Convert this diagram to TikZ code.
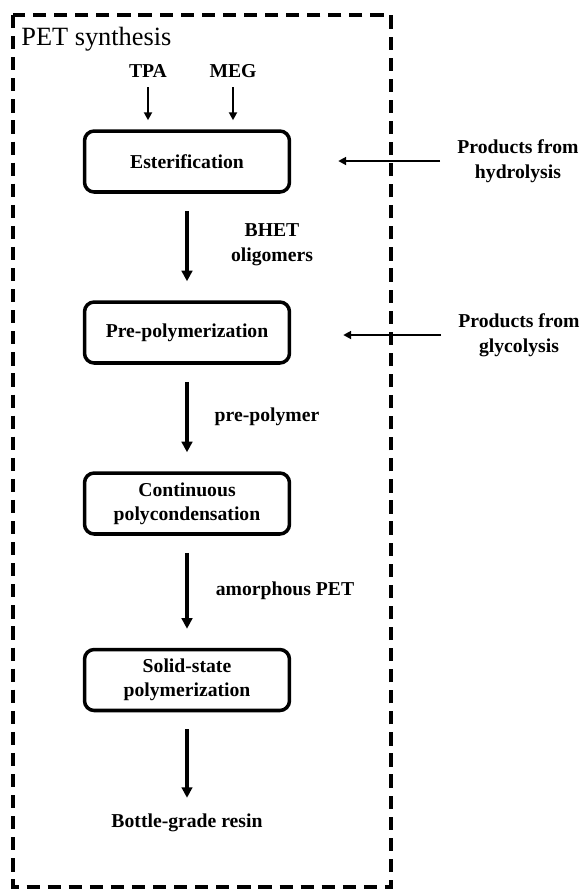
\documentclass[tikz,border=0pt]{standalone}
\usepackage{fontspec}
\setmainfont{Liberation Serif}
\usepackage{tikz}
\usetikzlibrary{arrows.meta}

\begin{document}
\begin{tikzpicture}[x=0.02cm,y=-0.02cm,
  stage/.style={draw,line width=2pt,rounded corners=5.5pt,minimum width=4.1cm,minimum height=1.22cm,align=center,font=\bfseries\fontsize{11.2}{13.5}\selectfont},
  lbl/.style={align=center,font=\bfseries\fontsize{11.2}{14}\selectfont},
  flow/.style={-{Triangle[length=6pt,width=6pt]},line width=1.9pt,shorten <=0.34cm,shorten >=0.38cm},
  feed/.style={-{Triangle[length=4.5pt,width=4.5pt]},line width=1.1pt}]
\useasboundingbox (0,0) rectangle (583,890);
\draw[line width=1.9pt,dash pattern=on 7.5pt off 4.5pt] (13,15) rectangle (391,887);
\node[anchor=base west,inner sep=0pt,font=\fontsize{15}{18}\selectfont] (title) at (21,45) {PET synthesis};
% inputs
\node[lbl] (tpa) at (148,71) {TPA};
\node[lbl] (meg) at (233,71) {MEG};
% process steps
\node[stage] (ester) at (187,161.5) {Esterification};
\node[stage] (prepoly) at (187,332.5) {Pre-polymerization};
\node[stage] (contin) at (187,503.5) {Continuous\\polycondensation};
\node[stage] (solid) at (187,680) {Solid-state\\polymerization};
\node[lbl] (resin) at (187,823) {Bottle-grade resin};
% intermediates
\node[lbl] (bhet) at (272,245) {BHET\\oligomers};
\node[lbl] (prepolymer) at (267,417) {pre-polymer};
\node[lbl] (amorph) at (285,591) {amorphous PET};
% recycled feeds
\node[lbl] (hydro) at (518,161) {Products from\\hydrolysis};
\node[lbl] (glyco) at (519,335) {Products from\\glycolysis};
\draw[feed,shorten <=0.07cm,shorten >=0.18cm] (tpa.south) -- (tpa.south |- ester.north);
\draw[feed,shorten <=0.07cm,shorten >=0.18cm] (meg.south) -- (meg.south |- ester.north);
\draw[flow] (ester) -- (prepoly);
\draw[flow] (prepoly) -- (contin);
\draw[flow] (contin) -- (solid);
\draw[flow,shorten >=0.2cm] (solid) -- (resin);
\draw[feed,shorten <=0.22cm,shorten >=0.94cm] (hydro.west) -- (hydro.west -| ester.east);
\draw[feed,shorten <=0.22cm,shorten >=1.04cm] (glyco.west) -- (glyco.west -| prepoly.east);
\end{tikzpicture}
\end{document}
